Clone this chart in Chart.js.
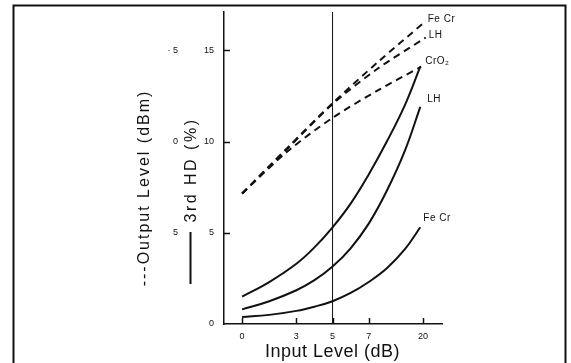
<!DOCTYPE html>
<html>
<head>
<meta charset="utf-8">
<script src="https://cdn.jsdelivr.net/npm/chart.js@4.4.1/dist/chart.umd.min.js"></script>
<style>
  html, body { margin: 0; padding: 0; background: #fff; }
  canvas { display: block; }
</style>
</head>
<body>
<canvas id="chart-hd" width="571" height="363"></canvas>
<script>
// x ticks sit at even spacing, the last one is printed "20" in the original
const xTickValues = [0, 3, 5, 7, 10];
const xTickLabels = ["0", "3", "5", "7", "20"];
const yTickValues = [0, 5, 10, 15];
const yTickLabels = ["0", "5", "10", "15"];
const dbmTickLabels = ["", "5", "0", "· 5"];
const markerInput = 5;

// 3rd HD (%) - solid curves
const hdInput = [0, 1.5, 3, 4, 5, 6, 7, 8, 9, 9.85];
const hdCrO2 = [1.5, 2.3, 3.3, 4.2, 5.3, 6.6, 8.2, 10.0, 12.0, 14.1];
const hdLH = [0.8, 1.25, 1.85, 2.4, 3.15, 4.15, 5.5, 7.3, 9.5, 11.9];
const hdFeCr = [0.38, 0.5, 0.72, 0.95, 1.25, 1.7, 2.3, 3.05, 4.1, 5.3];

// output level - dashed curves
const outInput = [0, 2.5, 5, 7.5, 10.15];
const outFeCr = [7.15, 9.65, 12.1, 14.35, 16.6];
const outLH = [7.15, 9.6, 12.05, 14.0, 15.7];
const outCrO2Input = [0, 2.5, 5, 7.5, 9.9];
const outCrO2 = [7.15, 9.45, 11.3, 12.8, 14.1];

const curveNames = ["Fe Cr", "LH", "CrO\u2082", "LH", "Fe Cr"];

const ink = "#111";
const fontFamily = "'Liberation Sans', Arial, sans-serif";

function pairs(xs, ys) {
  return ys.map((y, i) => ({ x: xs[i], y: y }));
}

function dashed(label, data) {
  return {
    label: label,
    data: data,
    borderColor: ink,
    borderWidth: 2,
    borderDash: [7, 5],
    pointRadius: 0,
    tension: 0.3,
  };
}

function solid(label, data) {
  return {
    label: label,
    data: data,
    borderColor: ink,
    borderWidth: 2,
    pointRadius: 0,
    tension: 0.4,
  };
}

// label offsets from the last point of each curve
const labelOffsets = [
  [2, -2],
  [3, -2],
  [4, -5],
  [7, -8],
  [3, -9],
];

function vText(ctx, text, x, y, font, spacing) {
  ctx.save();
  ctx.translate(x, y);
  ctx.rotate(-Math.PI / 2);
  ctx.font = font;
  ctx.letterSpacing = spacing + "px";
  ctx.textAlign = "center";
  ctx.textBaseline = "alphabetic";
  ctx.fillText(text, 0, 0);
  ctx.restore();
}

const decorations = {
  id: "decorations",
  afterDraw(chart) {
    const ctx = chart.ctx;
    const xs = chart.scales.x;
    const ys = chart.scales.y;
    const area = chart.chartArea;

    ctx.save();
    ctx.strokeStyle = ink;
    ctx.fillStyle = ink;

    // outer frame
    ctx.lineWidth = 2;
    ctx.strokeRect(13.5, 5.5, 552, 380);

    // inward ticks
    ctx.lineWidth = 1.5;
    ctx.beginPath();
    yTickValues.forEach((v) => {
      if (v === 0) return;
      const py = Math.round(ys.getPixelForValue(v)) + 0.5;
      ctx.moveTo(area.left, py);
      ctx.lineTo(area.left + 6, py);
    });
    xTickValues.forEach((v) => {
      const px = Math.round(xs.getPixelForValue(v)) + 0.5;
      ctx.moveTo(px, area.bottom);
      ctx.lineTo(px, area.bottom - 6);
    });
    ctx.stroke();

    // tick labels
    ctx.font = "9px " + fontFamily;
    ctx.textBaseline = "middle";
    ctx.textAlign = "right";
    yTickValues.forEach((v, i) => {
      const py = ys.getPixelForValue(v);
      ctx.fillText(yTickLabels[i], area.left - 10, py);
      ctx.fillText(dbmTickLabels[i], 178, py);
    });
    ctx.textAlign = "center";
    xTickValues.forEach((v, i) => {
      ctx.fillText(xTickLabels[i], xs.getPixelForValue(v), area.bottom + 13);
    });

    // axis titles
    ctx.textBaseline = "alphabetic";
    ctx.font = "18px " + fontFamily;
    ctx.letterSpacing = "0.5px";
    ctx.fillText("Input Level (dB)", xs.getPixelForValue(markerInput), 357);
    ctx.letterSpacing = "0px";

    vText(ctx, "---Output Level (dBm)", 149, 188, "16px " + fontFamily, 2);
    vText(ctx, "3rd HD (%)", 196, 170, "16px " + fontFamily, 2.5);
    ctx.lineWidth = 2;
    ctx.beginPath();
    ctx.moveTo(190.5, 232);
    ctx.lineTo(190.5, 284);
    ctx.stroke();

    // curve names at the line ends
    ctx.font = "10px " + fontFamily;
    ctx.letterSpacing = "0.5px";
    ctx.textAlign = "left";
    ctx.textBaseline = "middle";
    curveNames.forEach((name, i) => {
      const meta = chart.getDatasetMeta(i);
      const last = meta.data[meta.data.length - 1];
      ctx.fillText(name, last.x + labelOffsets[i][0], last.y + labelOffsets[i][1]);
    });
    ctx.restore();
  },
};

const ctx = document.getElementById("chart-hd");
const chart = new Chart(ctx, {
  type: "line",
  data: {
    datasets: [
      dashed("Output Fe Cr", pairs(outInput, outFeCr)),
      dashed("Output LH", pairs(outInput, outLH)),
      dashed("Output CrO2", pairs(outCrO2Input, outCrO2)),
      solid("3rd HD LH", pairs(hdInput, hdLH)),
      solid("3rd HD Fe Cr", pairs(hdInput, hdFeCr)),
      solid("3rd HD CrO2", pairs(hdInput, hdCrO2)),
      {
        label: "marker",
        data: [
          { x: markerInput, y: 0 },
          { x: markerInput, y: 17.1 },
        ],
        borderColor: ink,
        borderWidth: 1,
        pointRadius: 0,
      },
    ],
  },
  options: {
    responsive: false,
    animation: false,
    devicePixelRatio: 1,
    layout: {
      padding: { left: 224, top: 12, right: 129, bottom: 39 },
    },
    plugins: {
      legend: { display: false },
      tooltip: { enabled: false },
    },
    scales: {
      x: {
        type: "linear",
        min: -1,
        max: 11.05,
        grid: { display: false, drawTicks: false },
        border: { display: true, color: ink, width: 1.5 },
        ticks: { display: false },
        afterFit: (s) => { s.height = 0; },
      },
      y: {
        min: 0,
        max: 17.1,
        grid: { display: false, drawTicks: false },
        border: { display: true, color: ink, width: 1.5 },
        ticks: { display: false },
        afterFit: (s) => { s.width = 0; },
      },
    },
  },
  plugins: [decorations],
});
</script>
</body>
</html>
